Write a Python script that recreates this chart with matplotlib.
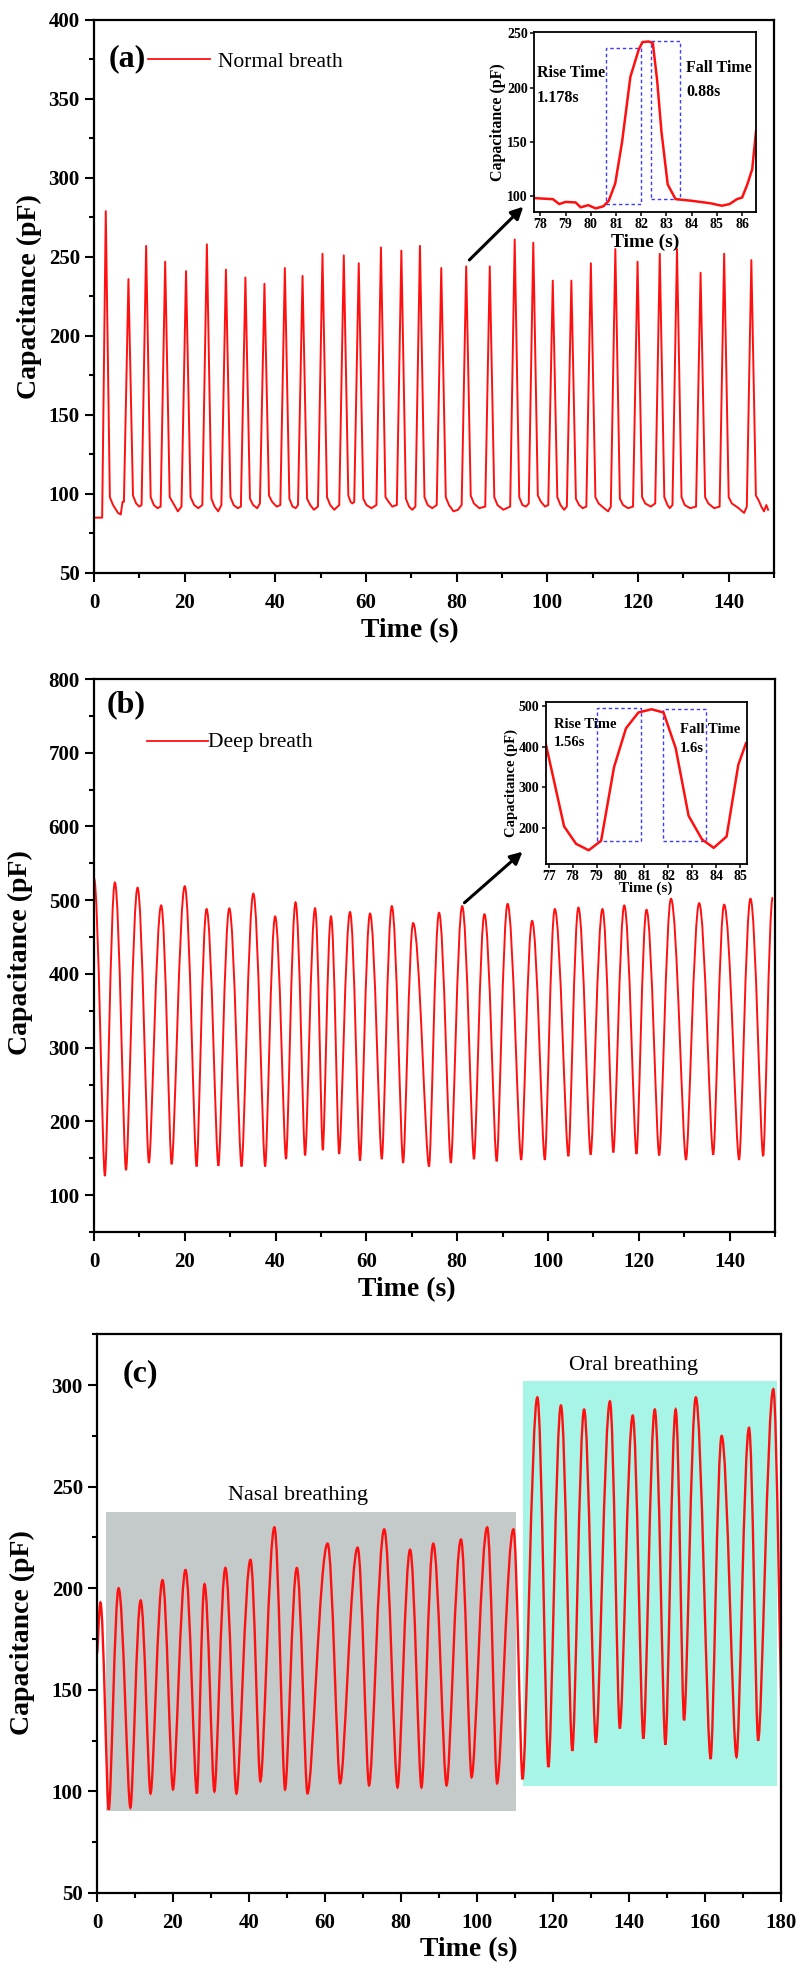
import numpy as np
import matplotlib
matplotlib.use("Agg")
import matplotlib.pyplot as plt
from matplotlib.path import Path
from matplotlib.patches import PathPatch, Rectangle
from matplotlib.ticker import MultipleLocator
from matplotlib.lines import Line2D

plt.rcParams['font.family'] = ['Liberation Serif', 'DejaVu Serif']
plt.rcParams['font.weight'] = 'bold'
plt.rcParams['axes.labelweight'] = 'bold'

RED = '#ff1010'
BLUE = '#3c3cff'

# ---------------- Panel (a): normal breath ----------------
a_peak_t = [2.6, 7.6, 11.5, 15.7, 20.3, 24.9, 29.1, 33.4, 37.6, 42.1, 46.0, 50.4,
            55.1, 58.4, 63.3, 67.8, 71.9, 76.6, 82.1, 87.3, 92.8, 96.9, 101.2, 105.3,
            109.6, 115.0, 119.9, 124.8, 128.6, 133.8, 139.0, 145.0]
a_peak_c = [279, 236, 257, 247, 241, 258, 242, 237, 233, 243, 238, 252,
            251, 246, 256, 254, 257, 243, 244, 244, 261, 259, 235, 235,
            246, 255, 247, 252, 255, 240, 252, 248]
a_base_t = [0, 1.8,
            3.5, 4.2, 5.3, 5.9, 6.3, 6.6,
            8.6, 9.3, 10.0, 10.5,
            12.5, 13.2, 14.0, 14.7,
            16.7, 17.5, 18.5, 19.3,
            21.3, 22.1, 23.0, 23.9,
            25.9, 26.6, 27.4, 28.1,
            30.1, 30.8, 31.7, 32.4,
            34.4, 35.1, 36.0, 36.6,
            38.6, 39.3, 40.3, 41.1,
            43.1, 43.8, 44.5, 45.0,
            47.0, 47.7, 48.5, 49.4,
            51.4, 52.1, 53.0, 54.1,
            56.1, 56.6, 57.0, 57.4,
            59.4, 60.1, 61.2, 62.3,
            64.3, 65.0, 65.8, 66.8,
            68.8, 69.5, 70.2, 70.9,
            72.9, 73.6, 74.6, 75.6,
            77.6, 78.3, 79.3, 80.3, 81.1,
            83.1, 83.8, 85.0, 86.3,
            88.3, 89.0, 90.3, 91.8,
            93.8, 94.5, 95.3, 95.9,
            97.9, 98.6, 99.5, 100.2,
            102.2, 102.9, 103.7, 104.3,
            106.3, 107.0, 107.8, 108.6,
            110.6, 111.3, 112.5, 113.4, 114.0,
            116.0, 116.7, 117.8, 118.9,
            120.9, 121.6, 122.8, 123.8,
            125.8, 126.5, 127.0, 127.6,
            129.6, 130.3, 131.5, 132.8,
            134.8, 135.5, 136.8, 138.0,
            140.0, 140.7, 142.2, 143.4, 144.0,
            146.0, 146.6, 147.2, 147.8, 148.3, 148.7]
a_base_c = [85, 85,
            98, 93, 88, 87, 95, 95,
            99, 94, 92, 93,
            98, 93, 91, 92,
            98, 94, 89, 92,
            98, 93, 91, 93,
            97, 92, 89, 93,
            98, 93, 91, 92,
            97, 93, 91, 94,
            99, 95, 92, 93,
            97, 92, 91, 93,
            97, 93, 90, 92,
            98, 93, 90, 93,
            99, 95, 94, 95,
            97, 93, 91, 93,
            98, 95, 92, 93,
            97, 92, 90, 92,
            98, 93, 91, 93,
            98, 93, 89, 90, 93,
            99, 94, 91, 92,
            98, 93, 90, 92,
            98, 93, 92, 94,
            99, 95, 92, 93,
            98, 93, 90, 92,
            97, 93, 91, 92,
            98, 94, 91, 89, 92,
            97, 93, 91, 92,
            98, 94, 92, 94,
            98, 93, 91, 93,
            98, 93, 91, 92,
            98, 94, 91, 92,
            98, 94, 91, 88, 92,
            99, 96, 92, 89, 93, 90]

# inset (a)
ia_t = [77.75, 78.5, 78.75, 79.0, 79.4, 79.6, 79.9, 80.2, 80.5, 80.71, 80.97, 81.24,
        81.57, 81.9, 82.05, 82.3, 82.46, 82.63, 82.8, 83.05, 83.36, 84.0, 84.5, 84.8,
        85.0, 85.2, 85.5, 85.8, 86.0, 86.2, 86.4, 86.55]
ia_c = [98.5, 97.5, 93, 95, 94.5, 90, 92, 89, 91, 96, 112, 150,
        210, 235, 242, 242.5, 241, 207, 160, 111, 97.6, 96, 94.5, 93.5,
        92.4, 91.5, 93, 97.6, 99, 110.7, 125, 160]
ia_rise_box = (80.61, 81.98, 92.8, 236.8)
ia_fall_box = (82.38, 83.54, 97.4, 242.7)

# ---------------- Panel (b): deep breath ----------------
b_t = [0, 2.4, 4.6, 7.05, 9.6, 12.1, 14.8, 17.1, 20.0, 22.6,
       24.8, 27.4, 29.8, 32.5, 35.1, 37.7, 39.9, 42.3, 44.4, 46.5,
       48.7, 50.4, 52.2, 54.0, 56.4, 58.6, 60.8, 63.4, 65.6, 68.1,
       70.3, 73.8, 76.0, 78.6, 81.1, 83.7, 86.0, 88.7, 91.1, 94.1,
       96.5, 99.3, 101.5, 104.5, 106.7, 109.4, 112.0, 114.4, 116.8, 119.5,
       121.7, 124.5, 127.1, 130.4, 133.3, 136.4, 138.8, 142.1, 144.6, 147.4,
       149.5]
b_c = [530, 126, 524, 134, 517, 144, 493, 142, 519, 139,
       488, 140, 489, 139, 509, 139, 478, 149, 497, 154,
       489, 161, 478, 156, 484, 147, 482, 149, 492, 144,
       469, 139, 483, 144, 492, 149, 481, 146, 495, 148,
       472, 148, 488, 153, 490, 155, 488, 158, 493, 156,
       487, 154, 502, 148, 496, 155, 494, 148, 502, 153,
       504]

ib_t = [76.87, 77.64, 78.14, 78.67, 79.19, 79.73, 80.23, 80.75, 81.3, 81.8,
        82.31, 82.85, 83.41, 83.9, 84.44, 84.93, 85.25]
ib_c = [408, 203, 160, 144, 167.5, 349, 445, 484, 492, 484,
        396, 229, 171, 150, 178, 355, 408]
ib_rise_box = (79.03, 80.87, 166, 494)
ib_fall_box = (81.77, 83.58, 166, 492)

# ---------------- Panel (c): nasal / oral ----------------
c_t = [0, 0.9, 3.1, 5.7, 8.8, 11.5, 14.1, 17.25, 20.0, 23.3,
       26.3, 28.3, 30.9, 33.8, 36.7, 40.4, 43.0, 46.7, 49.5, 52.6,
       55.4, 60.7, 64.0, 68.6, 71.6, 75.6, 79.1, 82.4, 85.4, 88.5,
       92.0, 95.8, 98.6, 102.7, 105.3, 109.6, 112.0, 115.9, 118.8, 122.1,
       125.1, 128.2, 131.3, 135.0, 137.6, 141.0, 143.8, 146.8, 149.6, 152.3,
       154.5, 157.6, 161.5, 164.4, 168.3, 171.6, 174.0, 178.0, 180.5]
c_c = [168, 193, 91, 200, 92, 194, 99, 204, 101, 209,
       99, 202, 100, 210, 99, 214, 105, 230, 101, 210,
       99, 222, 104, 220, 103, 229, 102, 219, 102, 222,
       103, 224, 107, 230, 104, 229, 106, 294, 112, 290,
       120, 288, 124, 292, 131, 285, 126, 288, 123, 288,
       135, 294, 116, 275, 117, 279, 125, 298, 125]
nasal_box = (2.4, 110.3, 90.5, 237.5)
oral_box = (112.0, 179.0, 102.8, 301.9)


def wave_path(t, v, k_hi=0.40, k_lo=0.22):
    verts = [(t[0], v[0])]
    codes = [Path.MOVETO]
    for i in range(len(t) - 1):
        dt = t[i + 1] - t[i]
        k0 = k_hi if v[i] > v[i + 1] else k_lo
        k1 = k_hi if v[i + 1] > v[i] else k_lo
        verts += [(t[i] + k0 * dt, v[i]), (t[i + 1] - k1 * dt, v[i + 1]), (t[i + 1], v[i + 1])]
        codes += [Path.CURVE4] * 3
    return Path(verts, codes)


def style_main(ax, xlim, ylim, xmaj, xmin, ymaj, ymin):
    ax.set_xlim(*xlim)
    ax.set_ylim(*ylim)
    ax.xaxis.set_major_locator(MultipleLocator(xmaj))
    ax.xaxis.set_minor_locator(MultipleLocator(xmin))
    ax.yaxis.set_major_locator(MultipleLocator(ymaj))
    ax.yaxis.set_minor_locator(MultipleLocator(ymin))
    ax.tick_params(which='major', direction='out', length=6.2, width=1.5, labelsize=15)
    ax.tick_params(which='minor', direction='out', length=3.6, width=1.5)
    ax.tick_params(axis='x', which='major', pad=8)
    ax.tick_params(axis='y', which='major', pad=4)
    ax.tick_params(top=False, right=False, which='both')
    for sp in ax.spines.values():
        sp.set_linewidth(1.6)


def style_inset(ax, xlim, ylim, xmaj, ymaj, fs):
    ax.set_xlim(*xlim)
    ax.set_ylim(*ylim)
    ax.xaxis.set_major_locator(MultipleLocator(xmaj))
    ax.yaxis.set_major_locator(MultipleLocator(ymaj))
    ax.tick_params(which='major', direction='out', length=3, width=1.1, labelsize=fs, pad=1.5)
    for sp in ax.spines.values():
        sp.set_linewidth(1.3)


fig = plt.figure(figsize=(8.04, 19.71), dpi=100)

# ===== (a) =====
axa = fig.add_axes([0.1169, 0.7093, 0.8458, 0.2806])
ta = np.array(a_peak_t + a_base_t)
ca = np.array(a_peak_c + a_base_c)
order = np.argsort(ta, kind='stable')
axa.plot(ta[order], ca[order], color=RED, lw=1.4)
style_main(axa, (0, 150), (50, 400), 20, 10, 50, 25)
axa.set_xlabel('Time (s)', fontsize=20)
axa.set_ylabel('Capacitance (pF)', fontsize=20)
axa.xaxis.set_label_coords(0.465, -0.081)
axa.yaxis.set_label_coords(-0.077, 0.5)
axa.text(0.022, 0.929, '(a)', transform=axa.transAxes, fontsize=23, fontweight='bold',
         ha='left', va='center')
axa.add_line(Line2D([0.0794, 0.1706], [0.9295, 0.9295], transform=axa.transAxes, color=RED, lw=1.3))
axa.text(0.1824, 0.9222, 'Normal breath', transform=axa.transAxes, fontsize=15.5,
         fontweight='normal', ha='left', va='center')
axa.annotate('', xy=(94.7, 281.8), xytext=(82.8, 248.1),
             arrowprops=dict(arrowstyle='-|>', color='black', lw=2.2, mutation_scale=18,
                             shrinkA=0, shrinkB=0))

ia = fig.add_axes([0.6642, 0.8926, 0.2761, 0.0913])
ia.plot(ia_t, ia_c, color=RED, lw=1.8)
style_inset(ia, (77.75, 86.55), (86, 251.5), 1, 50, 10)
for (x0, x1, y0, y1) in (ia_rise_box, ia_fall_box):
    ia.add_patch(Rectangle((x0, y0), x1 - x0, y1 - y0, fill=False, edgecolor=BLUE,
                           lw=1.0, ls=(0, (2.5, 2))))
ia.text(77.86, 213.3, 'Rise Time', fontsize=11.5, fontweight='bold', ha='left', va='center')
ia.text(77.86, 190.3, '1.178s', fontsize=11.5, fontweight='bold', ha='left', va='center')
ia.text(83.78, 217.9, 'Fall Time', fontsize=11.5, fontweight='bold', ha='left', va='center')
ia.text(83.78, 196.4, '0.88s', fontsize=11.5, fontweight='bold', ha='left', va='center')
ia.set_xlabel('Time (s)', fontsize=14)
ia.set_ylabel('Capacitance (pF)', fontsize=11.5)
ia.xaxis.set_label_coords(0.5, -0.12)
ia.yaxis.set_label_coords(-0.125, 0.5)

# ===== (b) =====
axb = fig.add_axes([0.1169, 0.3749, 0.8470, 0.2806])
axb.add_patch(PathPatch(wave_path(b_t, b_c), fill=False, edgecolor=RED, lw=1.4))
style_main(axb, (0, 150), (50, 800), 20, 10, 100, 50)
axb.set_xlabel('Time (s)', fontsize=20)
axb.set_ylabel('Capacitance (pF)', fontsize=20)
axb.xaxis.set_label_coords(0.46, -0.081)
axb.yaxis.set_label_coords(-0.089, 0.505)
axb.text(0.019, 0.9537, '(b)', transform=axb.transAxes, fontsize=23, fontweight='bold',
         ha='left', va='center')
axb.add_line(Line2D([0.0778, 0.1674], [0.8872, 0.8872], transform=axb.transAxes, color=RED, lw=1.3))
axb.text(0.1674, 0.8843, 'Deep breath', transform=axb.transAxes, fontsize=15.5,
         fontweight='normal', ha='left', va='center')
axb.annotate('', xy=(94.4, 565.8), xytext=(81.6, 496.6),
             arrowprops=dict(arrowstyle='-|>', color='black', lw=2.2, mutation_scale=18,
                             shrinkA=0, shrinkB=0))

ib = fig.add_axes([0.6787, 0.5617, 0.2500, 0.0823])
ib.plot(ib_t, ib_c, color=RED, lw=1.8)
style_inset(ib, (76.87, 85.28), (110.4, 510.7), 1, 100, 10)
for (x0, x1, y0, y1) in (ib_rise_box, ib_fall_box):
    ib.add_patch(Rectangle((x0, y0), x1 - x0, y1 - y0, fill=False, edgecolor=BLUE,
                           lw=1.0, ls=(0, (2.5, 2))))
ib.text(77.2, 455, 'Rise Time', fontsize=10.5, fontweight='bold', ha='left', va='center')
ib.text(77.2, 410, '1.56s', fontsize=10.5, fontweight='bold', ha='left', va='center')
ib.text(82.49, 442.5, 'Fall Time', fontsize=10.5, fontweight='bold', ha='left', va='center')
ib.text(82.49, 396, '1.6s', fontsize=10.5, fontweight='bold', ha='left', va='center')
ib.set_xlabel('Time (s)', fontsize=11)
ib.set_ylabel('Capacitance (pF)', fontsize=10.5)
ib.xaxis.set_label_coords(0.5, -0.11)
ib.yaxis.set_label_coords(-0.14, 0.5)

# ===== (c) =====
axc = fig.add_axes([0.1206, 0.0396, 0.8507, 0.2834])
for (x0, x1, y0, y1), col in ((nasal_box, '#c4cac9'), (oral_box, '#a6f5e6')):
    axc.add_patch(Rectangle((x0, y0), x1 - x0, y1 - y0, facecolor=col, edgecolor='none', zorder=0.5))
axc.add_patch(PathPatch(wave_path(c_t, c_c, k_hi=0.38, k_lo=0.25), fill=False,
                        edgecolor=RED, lw=1.7, zorder=2))
style_main(axc, (0, 180), (50, 325), 20, 10, 50, 25)
axc.set_xlabel('Time (s)', fontsize=20)
axc.set_ylabel('Capacitance (pF)', fontsize=20)
axc.xaxis.set_label_coords(0.543, -0.079)
axc.yaxis.set_label_coords(-0.0906, 0.467)
axc.text(0.038, 0.9293, '(c)', transform=axc.transAxes, fontsize=23, fontweight='bold',
         ha='left', va='center')
axc.text(53.0, 245.9, 'Nasal breathing', fontsize=16, fontweight='normal', ha='center', va='center')
axc.text(141.3, 309.6, 'Oral breathing', fontsize=16, fontweight='normal', ha='center', va='center')

fig.savefig('out.png', dpi=100)
